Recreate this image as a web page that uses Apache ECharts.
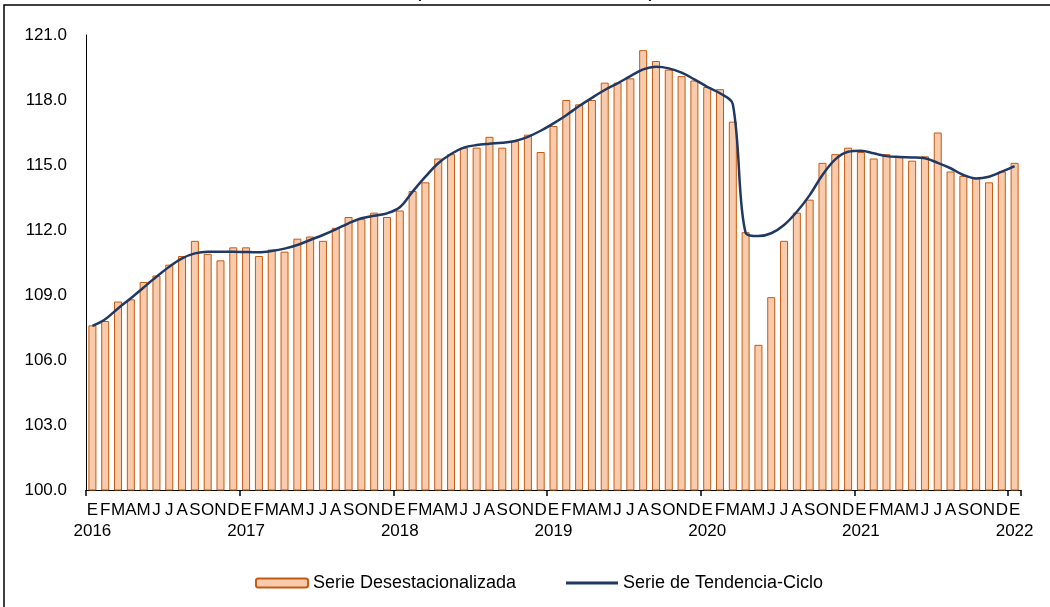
<!DOCTYPE html>
<html>
<head>
<meta charset="utf-8">
<script src="https://cdn.jsdelivr.net/npm/echarts@6/dist/echarts.min.js"></script>
<style>
  html, body { margin: 0; padding: 0; background: #fff; }
  #chart { width: 1050px; height: 607px; }
</style>
</head>
<body>
<div id="chart"></div>
<script>
const monthLetters = ["E", "F", "M", "A", "M", "J", "J", "A", "S", "O", "N", "D"];
const years = [2016, 2017, 2018, 2019, 2020, 2021, 2022];
const yMin = 100, yMax = 121, yStep = 3;

// seasonally adjusted series, Jan 2016 .. Jan 2022
const desestacionalizada = [
  107.6, 107.8, 108.7, 108.8, 109.6, 109.9, 110.4, 110.8, 111.5, 110.9, 110.6, 111.2,
  111.2, 110.8, 111.1, 111.0, 111.6, 111.7, 111.5, 112.1, 112.6, 112.5, 112.8, 112.6,
  112.9, 113.8, 114.2, 115.3, 115.5, 115.8, 115.8, 116.3, 115.8, 116.1, 116.4, 115.6,
  116.8, 118.0, 117.8, 118.0, 118.8, 118.8, 119.0, 120.3, 119.8, 119.4, 119.1, 118.9,
  118.6, 118.5, 117.0, 111.9, 106.7, 108.9, 111.5, 112.8, 113.4, 115.1, 115.5, 115.8,
  115.6, 115.3, 115.5, 115.4, 115.2, 115.4, 116.5, 114.7, 114.5, 114.4, 114.2, 114.7,
  115.1
];

// trend-cycle series
const tendencia = [
  107.57, 107.88, 108.38, 108.85, 109.35, 109.84, 110.30, 110.69, 110.92, 111.00, 111.00, 111.00,
  110.98, 110.97, 111.03, 111.14, 111.31, 111.54, 111.77, 112.03, 112.31, 112.54, 112.66, 112.77,
  113.05, 113.77, 114.46, 115.08, 115.51, 115.80, 115.92, 115.98, 116.03, 116.11, 116.30, 116.58,
  116.92, 117.30, 117.72, 118.10, 118.46, 118.77, 119.10, 119.41, 119.53, 119.46, 119.26, 118.95,
  118.61, 118.31, 117.81, 111.87, 111.72, 111.85, 112.23, 112.84, 113.61, 114.54, 115.26, 115.61,
  115.66, 115.54, 115.41, 115.37, 115.35, 115.31, 115.10, 114.85, 114.54, 114.38, 114.46, 114.69,
  114.95
];

const categories = [];
years.forEach((y) => {
  monthLetters.forEach((m, i) => {
    if (categories.length < desestacionalizada.length) categories.push(y + "-" + (i + 1));
  });
});

const font = "'Liberation Sans', Arial, sans-serif";
const chart = echarts.init(document.getElementById("chart"));
chart.setOption({
  animation: false,
  backgroundColor: "#fff",
  textStyle: { fontFamily: font, color: "#000" },
  graphic: [
    {
      type: "rect",
      shape: { x: 4, y: 5, width: 1200, height: 800 },
      style: { fill: "none", stroke: "#000", lineWidth: 1.5 },
      silent: true
    },
    {
      type: "text",
      x: 535,
      y: 1,
      style: {
        text: "(Índice base 2013=100)",
        font: "23px " + font,
        fill: "#000",
        align: "center",
        verticalAlign: "bottom"
      },
      silent: true
    }
  ],
  grid: { left: 86, top: 35, right: 29, bottom: 117 },
  legend: [
    {
      left: 250,
      top: 569,
      itemWidth: 52,
      itemHeight: 9,
      textStyle: { fontSize: 18, color: "#000", fontFamily: font },
      data: ["Serie Desestacionalizada"]
    },
    {
      left: 561,
      top: 569,
      itemWidth: 52,
      itemHeight: 3,
      textStyle: { fontSize: 18, color: "#000", fontFamily: font },
      data: [{ name: "Serie de Tendencia-Ciclo", icon: "rect" }]
    }
  ],
  xAxis: {
    type: "category",
    data: categories,
    boundaryGap: true,
    axisLine: { lineStyle: { color: "#000", width: 1 } },
    axisTick: {
      show: true,
      length: 6,
      alignWithLabel: false,
      lineStyle: { color: "#000", width: 1.5 },
      interval: (i) => i % 12 === 0
    },
    axisLabel: {
      interval: 0,
      margin: 10,
      fontSize: 17,
      lineHeight: 21,
      color: "#000",
      formatter: (v, i) => {
        const m = i % 12;
        return m === 0 ? monthLetters[m] + "\n" + years[i / 12] : monthLetters[m];
      }
    },
    splitLine: { show: false }
  },
  yAxis: {
    type: "value",
    min: yMin,
    max: yMax,
    interval: yStep,
    axisLine: { show: true, lineStyle: { color: "#000", width: 1 } },
    axisTick: { show: false },
    splitLine: { show: false },
    axisLabel: {
      margin: 19,
      fontSize: 17,
      color: "#000",
      formatter: (v) => v.toFixed(1)
    }
  },
  series: [
    {
      name: "Serie Desestacionalizada",
      type: "bar",
      data: desestacionalizada,
      barWidth: 8,
      itemStyle: { color: "#F8CBAD", borderColor: "#C55A11", borderWidth: 1 }
    },
    {
      name: "Serie de Tendencia-Ciclo",
      type: "line",
      data: tendencia,
      smooth: 0.35,
      symbol: "none",
      lineStyle: { color: "#203864", width: 2.5 },
      itemStyle: { color: "#203864" }
    }
  ]
});
</script>
</body>
</html>
